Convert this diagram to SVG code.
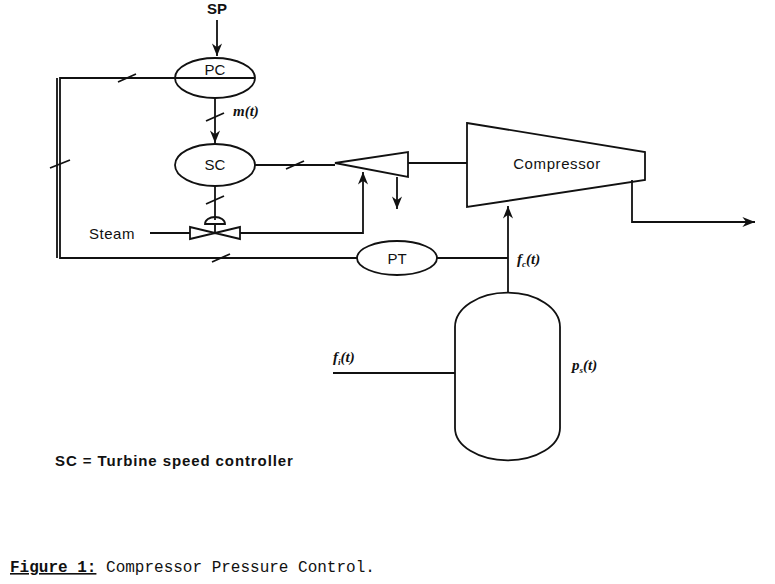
<svg xmlns="http://www.w3.org/2000/svg" width="775" height="584" viewBox="0 0 775 584">
<style>
.l{fill:none;stroke:#111;stroke-width:1.8}
.t{font-family:"Liberation Sans",Arial,sans-serif;font-size:15px;fill:#111;text-anchor:middle}
.m{font-family:"Liberation Serif",serif;font-style:italic;font-weight:bold;font-size:15px;fill:#111}
</style>
<defs><marker id="a" viewBox="0 0 10 10" refX="10" refY="5" markerWidth="7" markerHeight="7" orient="auto"><path d="M0,1 L10,5 L0,9 L3,5 Z" fill="#111"/></marker></defs>
<rect width="775" height="584" fill="#fff"/>
<g id="connectors">
<path class="l" d="M217,20 V56" marker-end="url(#a)" stroke-width="2.2"/>
<path class="l" d="M215,98 V143" marker-end="url(#a)" stroke-width="2.2"/>
<path class="l" d="M206,121 L224,113"/>
<path class="l" d="M175,78 H60 V258 H357"/>
<path class="l" d="M57,78 V258"/>
<path class="l" d="M118,82 L136,74 M50,168 L70,160 M212,262 L230,254"/>
<path class="l" d="M255,165 H335"/>
<path class="l" d="M286,169 L304,161"/>
<path class="l" d="M215,186 V220"/>
<path class="l" d="M206,204 L224,196"/>
<path class="l" d="M150,233 H190 M240,233 H363 V172" marker-end="url(#a)"/>
<path class="l" d="M397,177 V209" marker-end="url(#a)"/>
<path class="l" d="M408,163 H467"/>
<path class="l" d="M632,180 V222 H755" marker-end="url(#a)"/>
<path class="l" d="M437,258 H508"/>
<path class="l" d="M508,293 V206" marker-end="url(#a)" stroke-width="2.4"/>
<path class="l" d="M333,373 H455"/>
</g>
<g id="SP"><text class="t" x="217" y="14" font-weight="bold">SP</text></g>
<g id="PC"><ellipse class="l" cx="215" cy="78" rx="40" ry="20"/><path class="l" d="M175,78 H255"/><text class="t" x="215" y="75">PC</text></g>
<text class="m" x="233" y="116">m(t)</text>
<g id="SC"><ellipse class="l" cx="215" cy="165" rx="40" ry="21"/><text class="t" x="215" y="170">SC</text></g>
<g id="valve"><path class="l" d="M205,224 A10,7 0 0 1 225,224 Z M215,224 V233"/><path class="l" d="M190,227 V239 L240,227 V239 Z"/></g>
<text class="t" x="112" y="239" font-size="16" letter-spacing="0.5">Steam</text>
<g id="turbine"><path class="l" d="M335,163 L408,152 V177 Z"/></g>
<g id="compressor"><path class="l" d="M467,123 L645,152 V180 L467,207 Z"/><text class="t" x="557" y="169" font-size="16" letter-spacing="0.6">Compressor</text></g>
<g id="PT"><ellipse class="l" cx="397" cy="258" rx="40" ry="17"/><text class="t" x="397" y="264">PT</text></g>
<text class="m" x="517" y="264">f<tspan font-size="9" dy="3">c</tspan><tspan dy="-3">(t)</tspan></text>
<g id="vessel"><path class="l" d="M455,327 A52,34 0 0 1 560,327 V428 A52,32 0 0 1 455,428 Z" stroke-width="2.2"/></g>
<text class="m" x="333" y="362">f<tspan font-size="9" dy="3">i</tspan><tspan dy="-3">(t)</tspan></text>
<text class="m" x="572" y="370">p<tspan font-size="9" dy="3">s</tspan><tspan dy="-3">(t)</tspan></text>
<text class="t" x="55" y="466" style="text-anchor:start" font-weight="bold" font-size="15" letter-spacing="0.9">SC = Turbine speed controller</text>
<text x="10" y="572" font-family="Liberation Mono,monospace" font-size="16" fill="#111"><tspan font-weight="bold" text-decoration="underline">Figure 1:</tspan> Compressor Pressure Control.</text>
</svg>
